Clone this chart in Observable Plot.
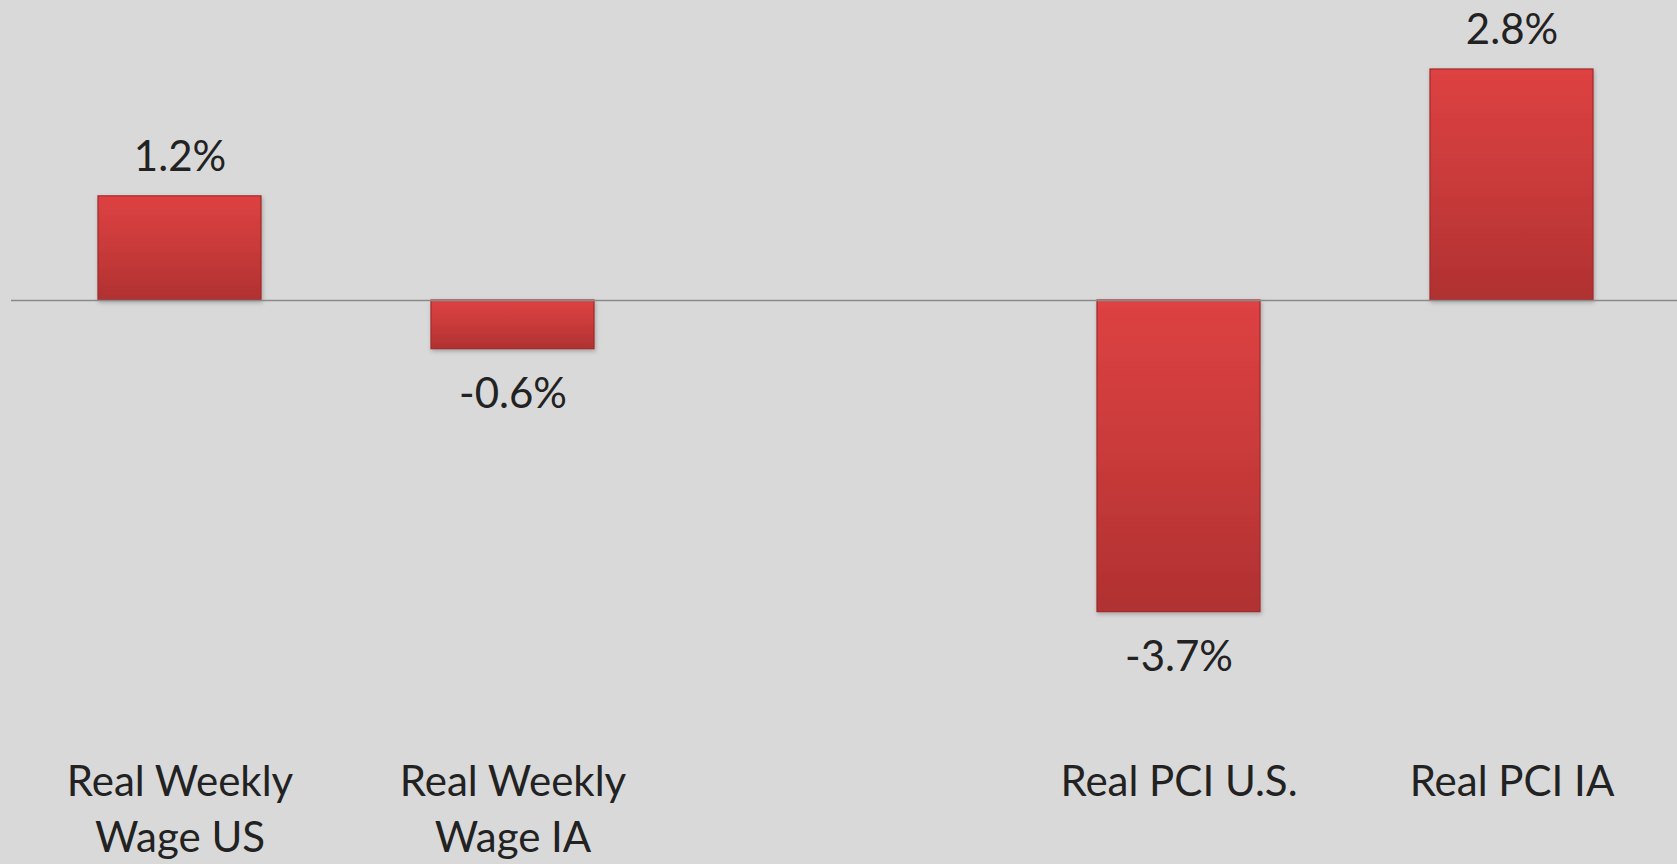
<!DOCTYPE html>
<html>
<head>
<meta charset="utf-8">
<script src="https://cdn.jsdelivr.net/npm/d3@7"></script>
<script src="https://cdn.jsdelivr.net/npm/@observablehq/plot@0.6"></script>
<style>
  html, body { margin: 0; padding: 0; background: #d9d9d9; }
  #chart svg { display: block; }
</style>
</head>
<body>
<div id="chart"></div>
<script>
const categories = ["Real Weekly\nWage US", "Real Weekly\nWage IA", " ", "Real PCI U.S.", "Real PCI IA"];
const values = [1.24, -0.58, null, -3.71, 2.75];
const valueLabels = ["1.2%", "-0.6%", "", "-3.7%", "2.8%"];

const data = categories.map((c, i) => ({cat: c, value: values[i], label: valueLabels[i]}));
const bars = data.filter(d => d.value != null);

const chart = Plot.plot({
  width: 1677,
  height: 864,
  marginTop: 0,
  marginLeft: 11,
  marginRight: -3,
  marginBottom: 228,
  style: {background: "#d9d9d9", fontFamily: "Lato, 'Open Sans', sans-serif", color: "#222", overflow: "visible"},
  x: {domain: categories, paddingInner: 0.51, paddingOuter: 0.255, label: null},
  y: {domain: [-4, 3.5714], axis: null},
  marks: [
    Plot.axisX({tickSize: 0, tickPadding: 120, fontSize: 42, lineHeight: 1.33, fill: "#222", label: null}),
    Plot.barY(bars, {x: "cat", y: "value", fill: "url(#barGrad)", stroke: "#a02a2a", strokeWidth: 1.2}),
    Plot.ruleY([0], {stroke: "#8a8a8a", strokeWidth: 1.5}),
    Plot.text(bars.filter(d => d.value > 0), {x: "cat", y: "value", text: "label", lineAnchor: "bottom", dy: -25, fontSize: 42, fill: "#222"}),
    Plot.text(bars.filter(d => d.value < 0), {x: "cat", y: "value", text: "label", lineAnchor: "top", dy: 29, fontSize: 42, fill: "#222"})
  ]
});

const ns = "http://www.w3.org/2000/svg";
const defs = document.createElementNS(ns, "defs");
defs.innerHTML = `<linearGradient id="barGrad" x1="0" y1="0" x2="0" y2="1">
  <stop offset="0" stop-color="#e04444"/>
  <stop offset="0.03" stop-color="#dc4141"/>
  <stop offset="0.5" stop-color="#c93a3a"/>
  <stop offset="1" stop-color="#b03131"/>
</linearGradient>
<filter id="barShadow" x="-10%" y="-10%" width="130%" height="130%">
  <feDropShadow dx="1" dy="2" stdDeviation="2" flood-color="#000" flood-opacity="0.25"/>
</filter>`;
chart.insertBefore(defs, chart.firstChild);
chart.querySelectorAll("g[aria-label='bar'] rect").forEach(r => r.setAttribute("filter", "url(#barShadow)"));
document.getElementById("chart").appendChild(chart);
</script>
</body>
</html>
